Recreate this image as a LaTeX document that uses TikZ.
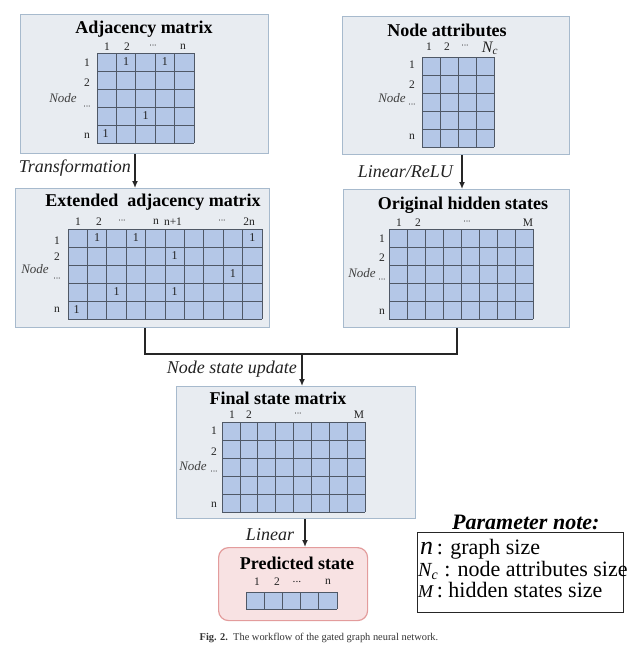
\documentclass[tikz,border=0pt]{standalone}
\usepackage{fontspec}
\setmainfont{Liberation Serif}
\usetikzlibrary{arrows.meta}
\definecolor{panelfill}{HTML}{E8ECF1}
\definecolor{paneldraw}{HTML}{A7BACD}
\definecolor{cellfill}{HTML}{B4C7E7}
\definecolor{gridcol}{HTML}{4F5866}
\definecolor{pinkfill}{HTML}{F8E2E3}
\definecolor{pinkdraw}{HTML}{E39C9C}
\definecolor{inkcol}{HTML}{222222}
\newcommand\fs[1]{\fontsize{#1}{#1}\selectfont}
\newcommand\mydots{{\fs{9}\textperiodcentered\kern-0.6pt\textperiodcentered\kern-0.6pt\textperiodcentered}}
\newcommand\cellgrid[6]{%
  \fill[cellfill] (#1,#2) rectangle ({#1+#3*#5},{#2+#4*#6});
  \foreach \i in {0,...,#3} \draw[gridline] ({#1+\i*#5},#2) -- ({#1+\i*#5},{#2+#4*#6});
  \foreach \j in {0,...,#4} \draw[gridline] (#1,{#2+\j*#6}) -- ({#1+#3*#5},{#2+\j*#6});
}
\tikzset{
  panel/.style={draw=paneldraw, fill=panelfill, line width=1.2pt, anchor=north west, inner sep=0pt},
  predpanel/.style={draw=pinkdraw, fill=pinkfill, line width=1.2pt, anchor=north west, inner sep=0pt, rounded corners=10pt},
  gridline/.style={draw=gridcol, line width=0.8pt},
  title/.style={font=\fs{18}\bfseries, inner sep=0pt, text=black},
  lab/.style={font=\fs{11.5}, inner sep=0pt, text=inkcol},
  nodelab/.style={font=\fs{13}\itshape, inner sep=0pt, text=black!75},
  entry/.style={font=\fs{12}, inner sep=0pt, text=inkcol},
  edgelab/.style={font=\fs{18}\itshape, inner sep=0pt, text=inkcol},
  conn/.style={draw=black!85, line width=1.3pt},
  arr/.style={conn, -{Latex[length=7pt,width=6pt]}},
  paramline/.style={font=\fs{22}, inner sep=0pt, anchor=base west, text=black}
}
\begin{document}
\begin{tikzpicture}[x=1pt,y=-1pt]
\useasboundingbox (0,0) rectangle (635,657);

% ---------- Adjacency matrix ----------
\node[panel, minimum width=248pt, minimum height=139pt] (adj) at (20,14) {};
\node[title] (adjt) at (144,29) {Adjacency matrix};
\cellgrid{97}{53}{5}{5}{19.4}{18}
\node[lab] (adjc1) at (107,47) {1};
\node[lab] (adjc2) at (127,47) {2};
\node[lab] (adjc3) at (153,47) {\mydots};
\node[lab] (adjc4) at (183,47) {n};
\node[lab] (adjr1) at (87,63) {1};
\node[lab] (adjr2) at (87,83) {2};
\node[lab] (adjr3) at (87,108) {\mydots};
\node[lab] (adjr4) at (87,136) {n};
\node[nodelab] (adjn) at (63,98) {Node};
\node[entry] (adje1) at (126.1,62) {1};
\node[entry] (adje2) at (164.9,62) {1};
\node[entry] (adje3) at (145.5,116) {1};
\node[entry] (adje4) at (105.5,134) {1};

% ---------- Node attributes ----------
\node[panel, minimum width=227pt, minimum height=138pt] (attr) at (342,16) {};
\node[title] (attrt) at (447,30) {Node attributes};
\cellgrid{422}{57}{4}{5}{18}{18}
\node[lab] (attrc1) at (429,47) {1};
\node[lab] (attrc2) at (447,47) {2};
\node[lab] (attrc3) at (465,47) {\mydots};
\node[lab, font=\fs{16}\itshape] (attrc4) at (490,48.5) {N\textsubscript{c}};
\node[lab] (attrr1) at (412,65) {1};
\node[lab] (attrr2) at (412,85) {2};
\node[lab] (attrr3) at (412,106) {\mydots};
\node[lab] (attrr4) at (412,137) {n};
\node[nodelab] (attrn) at (392,98) {Node};

% ---------- Extended adjacency matrix ----------
\node[panel, minimum width=254pt, minimum height=139pt] (ext) at (15,188) {};
\node[title] (extt) at (153,202) {Extended\ \ adjacency matrix};
\cellgrid{68}{229}{10}{5}{19.4}{18}
\node[lab] (extc1) at (78,222) {1};
\node[lab] (extc2) at (99,222) {2};
\node[lab] (extc3) at (122,222) {\mydots};
\node[lab] (extc4) at (156,222) {n};
\node[lab] (extc5) at (173,222) {n+1};
\node[lab] (extc6) at (222,222) {\mydots};
\node[lab] (extc7) at (249,222) {2n};
\node[lab] (extr1) at (57,241) {1};
\node[lab] (extr2) at (57,257) {2};
\node[lab] (extr3) at (57,280) {\mydots};
\node[lab] (extr4) at (57,310) {n};
\node[nodelab] (extn) at (35,269) {Node};
\node[entry] (exte1) at (97.1,238) {1};
\node[entry] (exte2) at (135.9,238) {1};
\node[entry] (exte3) at (252.3,238) {1};
\node[entry] (exte4) at (174.7,256) {1};
\node[entry] (exte5) at (232.9,274) {1};
\node[entry] (exte6) at (116.5,292) {1};
\node[entry] (exte7) at (174.7,292) {1};
\node[entry] (exte8) at (76.5,310) {1};

% ---------- Original hidden states ----------
\node[panel, minimum width=226pt, minimum height=138pt] (hid) at (343,189) {};
\node[title] (hidt) at (463,205) {Original hidden states};
\cellgrid{389}{229}{8}{5}{18}{18}
\node[lab] (hidc1) at (399,223) {1};
\node[lab] (hidc2) at (418,223) {2};
\node[lab] (hidc3) at (467,223) {\mydots};
\node[lab] (hidc4) at (528,223) {M};
\node[lab] (hidr1) at (382,239) {1};
\node[lab] (hidr2) at (382,258) {2};
\node[lab] (hidr3) at (382,281) {\mydots};
\node[lab] (hidr4) at (382,312) {n};
\node[nodelab] (hidn) at (362,273) {Node};

% ---------- Final state matrix ----------
\node[panel, minimum width=239pt, minimum height=132pt] (fin) at (176,386) {};
\node[title] (fint) at (278,398) {Final state matrix};
\cellgrid{222}{422}{8}{5}{17.9}{18}
\node[lab] (finc1) at (232,415) {1};
\node[lab] (finc2) at (249,415) {2};
\node[lab] (finc3) at (298,415) {\mydots};
\node[lab] (finc4) at (359,415) {M};
\node[lab] (finr1) at (214,431) {1};
\node[lab] (finr2) at (214,452) {2};
\node[lab] (finr3) at (214,473) {\mydots};
\node[lab] (finr4) at (214,505) {n};
\node[nodelab] (finn) at (193,466) {Node};

% ---------- Predicted state ----------
\node[predpanel, minimum width=149pt, minimum height=73pt] (pred) at (218,547) {};
\node[title] (predt) at (297,563) {Predicted state};
\cellgrid{246}{592}{5}{1}{18.2}{17}
\node[lab] (predc1) at (257,582) {1};
\node[lab] (predc2) at (277,582) {2};
\node[lab] (predc3) at (297,582) {...};
\node[lab] (predc4) at (328,582) {n};

% ---------- Connectors ----------
\coordinate (x1) at (135,0);
\coordinate (x2) at (462,0);
\coordinate (x3) at (305,0);
\coordinate (m1) at (145,354);
\coordinate (m2) at (457,354);
\coordinate (j) at (302,354);
\draw[arr] (adj.south -| x1) -- (ext.north -| x1);
\draw[arr] (attr.south -| x2) -- (hid.north -| x2);
\draw[conn] (ext.south -| m1) -- (m1) -- (m2) -- (hid.south -| m2);
\draw[arr] (j) -- (fin.north -| j);
\draw[arr] (fin.south -| x3) -- (pred.north -| x3);

\node[edgelab, anchor=east] (l1) at (131,168) {Transformation};
\node[edgelab, anchor=east] (l2) at (453,172) {Linear/ReLU};
\node[edgelab, anchor=east] (l3) at (297,369) {Node state update};
\node[edgelab] (l4) at (270,535) {Linear};

% ---------- Parameter note ----------
\node[font=\fs{22}\bfseries\itshape, inner sep=0pt, anchor=west] (pt) at (452,522) {Parameter note:};
\node[draw=black!85, line width=1pt, minimum width=206pt, minimum height=80pt, anchor=north west, inner sep=0pt] (pbox) at (417,532) {};
\node[paramline] (p1) at (420,554) {{\fs{26}\itshape n}\,: graph size};
\node[paramline] (p2) at (418,576) {{\fs{20}\itshape N\textsubscript{c}}\hspace{6pt}: node attributes size};
\node[paramline] (p3) at (418,597) {{\fs{18}\itshape M}\,: hidden states size};

% ---------- Caption ----------
\node[font=\fs{10.4}, inner sep=0pt, text=black!80] (cap) at (319,638) {\textbf{Fig. 2.}\ \ The workflow of the gated graph neural network.};
\end{tikzpicture}
\end{document}
